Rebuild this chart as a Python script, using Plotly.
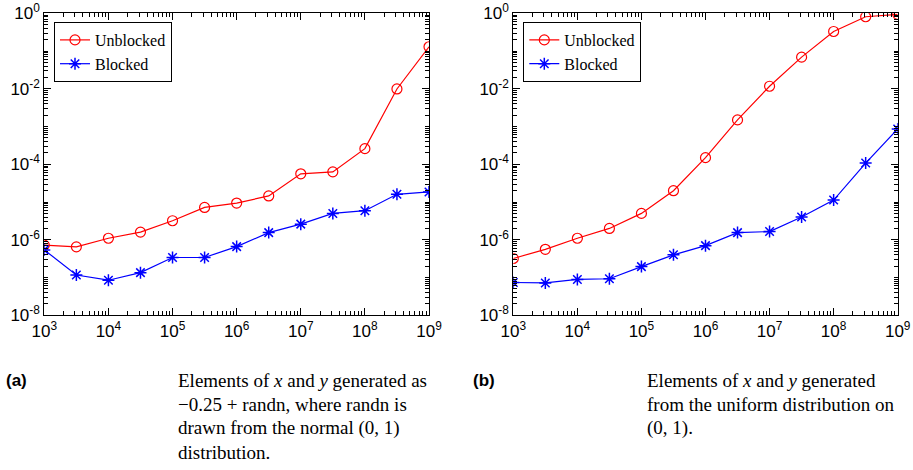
import plotly.graph_objects as go

# ---- data ----
n_elements = [1e3, 10**3.5, 1e4, 10**4.5, 1e5, 10**5.5, 1e6, 10**6.5,
              1e7, 10**7.5, 1e8, 10**8.5, 1e9]

a_unblocked = [7.2e-7, 6.5e-7, 1.1e-6, 1.6e-6, 3.2e-6, 7.2e-6, 9.4e-6,
               1.45e-5, 5.6e-5, 6.3e-5, 2.6e-4, 9.9e-3, 0.13]
a_blocked = [5.4e-7, 1.17e-7, 8.5e-8, 1.35e-7, 3.4e-7, 3.4e-7, 6.6e-7,
             1.55e-6, 2.6e-6, 5.0e-6, 5.9e-6, 1.6e-5, 1.85e-5]

b_unblocked = [3.2e-7, 5.6e-7, 1.1e-6, 2.0e-6, 5.0e-6, 2.0e-5, 1.5e-4,
               1.5e-3, 1.17e-2, 6.9e-2, 0.33, 0.81, 0.94]
b_blocked = [7.4e-8, 7.2e-8, 8.9e-8, 9.3e-8, 1.95e-7, 4.0e-7, 7.0e-7,
             1.55e-6, 1.65e-6, 4.0e-6, 1.13e-5, 1.08e-4, 8.6e-4]

x_tick_exps = [3, 4, 5, 6, 7, 8, 9]
y_tick_exps = [-8, -6, -4, -2, 0]

caption_a = ["Elements of <i>x</i> and <i>y</i> generated as",
             "\u22120.25 + randn, where randn is",
             "drawn from the normal (0, 1)",
             "distribution."]
caption_b = ["Elements of <i>x</i> and <i>y</i> generated",
             "from the uniform distribution on",
             "(0, 1)."]

W, H = 913, 470
RED = "#ff0000"
BLUE = "#0000ff"

fig = go.Figure()

def add_pair(xa, ya, unb, blk, legend):
    fig.add_trace(go.Scatter(
        x=n_elements, y=unb, mode="lines+markers", name="Unblocked",
        xaxis=xa, yaxis=ya, legend=legend,
        line=dict(color=RED, width=1.2),
        marker=dict(symbol="circle-open", size=10, color=RED,
                    line=dict(color=RED, width=1.2))))
    fig.add_trace(go.Scatter(
        x=n_elements, y=blk, mode="lines+markers", name="Blocked",
        xaxis=xa, yaxis=ya, legend=legend,
        line=dict(color=BLUE, width=1.2),
        marker=dict(symbol="asterisk-open", size=10, color=BLUE,
                    line=dict(color=BLUE, width=1.5))))

add_pair("x", "y", a_unblocked, a_blocked, "legend")
add_pair("x2", "y2", b_unblocked, b_blocked, "legend2")

x_minor = [m * 10**k for k in range(3, 9) for m in range(2, 10)]
y_minor = [m * 10**k for k in range(-8, 0) for m in range(1, 10)
           if not (m == 1 and k % 2 == 0)]

tickfont = dict(family="Liberation Sans, Arial, sans-serif", size=17, color="black")

def xaxis(domain, anchor):
    return dict(
        type="log", range=[3, 9], domain=domain, anchor=anchor, automargin=False,
        tickvals=[10**e for e in x_tick_exps],
        ticktext=[f"10<sup>{e}</sup>" for e in x_tick_exps],
        ticks="inside", ticklen=7, tickwidth=1, tickcolor="black",
        showline=True, linecolor="black", linewidth=1, mirror="allticks",
        showgrid=False, zeroline=False, tickfont=tickfont,
        minor=dict(tickvals=x_minor, ticks="inside", ticklen=4,
                   tickcolor="black", tickwidth=1, showgrid=False))

def yaxis(domain, anchor):
    return dict(
        type="log", range=[-8, 0], domain=domain, anchor=anchor, automargin=False,
        tickvals=[10**e for e in y_tick_exps],
        ticktext=[f"10<sup>{e}</sup>" for e in y_tick_exps],
        ticks="inside", ticklen=7, tickwidth=1, tickcolor="black",
        showline=True, linecolor="black", linewidth=1, mirror="allticks",
        showgrid=False, zeroline=False, tickfont=tickfont,
        minor=dict(tickvals=y_minor, ticks="inside", ticklen=4,
                   tickcolor="black", tickwidth=1, showgrid=False))

ydom = [1 - 315.3 / H, 1 - 13.3 / H]
legfont = dict(family="Liberation Serif, Times New Roman, serif", size=16, color="black")

def legend(xpx):
    return dict(x=xpx / W, y=1 - 22 / H, xanchor="left", yanchor="top",
                bgcolor="white", bordercolor="black", borderwidth=1,
                font=legfont, tracegroupgap=0)

fig.update_layout(
    width=W, height=H,
    margin=dict(l=0, r=0, t=0, b=0),
    paper_bgcolor="white", plot_bgcolor="white",
    xaxis=xaxis([44.3 / W, 429 / W], "y"),
    yaxis=yaxis(ydom, "x"),
    xaxis2=xaxis([513.3 / W, 897.7 / W], "y2"),
    yaxis2=yaxis(ydom, "x2"),
    legend=legend(54),
    legend2=legend(523.3),
    showlegend=True,
)

capfont = dict(family="Liberation Serif, Times New Roman, serif", size=19, color="black")
labfont = dict(family="Liberation Sans, Arial, sans-serif", size=17, color="black")

def add_caption(label, label_x, text_x, lines):
    fig.add_annotation(text=f"<b>{label}</b>", x=label_x / W, y=1 - 380 / H,
                       xref="paper", yref="paper", xanchor="left", yanchor="middle",
                       showarrow=False, font=labfont)
    for i, ln in enumerate(lines):
        fig.add_annotation(text=ln, x=text_x / W, y=1 - (380 + 24 * i) / H,
                           xref="paper", yref="paper", xanchor="left", yanchor="middle",
                           showarrow=False, font=capfont)

add_caption("(a)", 4, 176, caption_a)
add_caption("(b)", 471, 645, caption_b)

fig.write_html("out.html",
               config={"displayModeBar": False},
               post_script="document.body.style.margin='0px';"
                           "document.body.style.overflow='hidden';")
